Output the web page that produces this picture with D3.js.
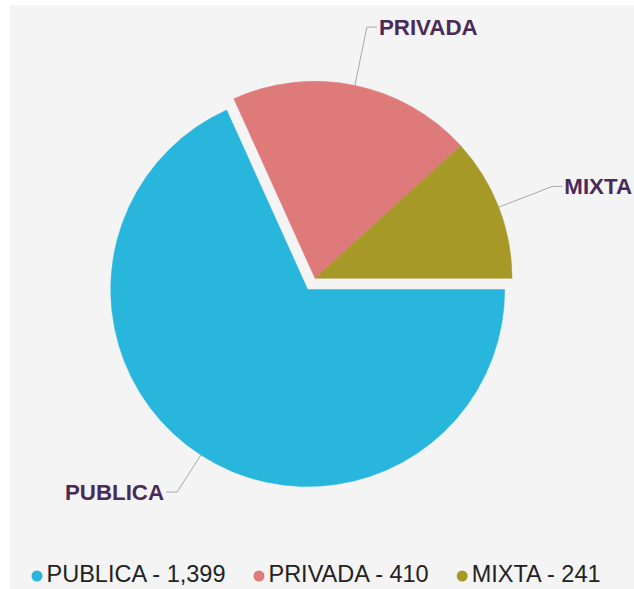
<!DOCTYPE html>
<html><head><meta charset="utf-8">
<script src="https://cdn.jsdelivr.net/npm/d3@7"></script>
<style>html,body{margin:0;padding:0;background:#fff;overflow:hidden}svg{display:block}</style>
</head><body>
<svg id="chart" width="634" height="589"></svg>
<script>
const categories = ["PUBLICA", "PRIVADA", "MIXTA"];
const values = [1399, 410, 241];
const colors = ["#29b6dc", "#de7a7a", "#a69928"];
const sliced = [true, false, false];

const W = 634, H = 589;
const cx = 315, cy = 278.3, R = 197, sliceOffset = 13.4;
const labelFont = "bold 22.3px 'Liberation Sans', Arial, sans-serif";

const svg = d3.select("#chart");
svg.append("rect").attr("x", 10).attr("y", 5).attr("width", W - 10).attr("height", H - 5).attr("fill", "#f4f4f4");

const data = categories.map((c, i) => ({ name: c, value: values[i], color: colors[i], sliced: sliced[i] }));
const pie = d3.pie().value(d => d.value).sort(null).startAngle(Math.PI / 2).endAngle(Math.PI / 2 + 2 * Math.PI);
const arcs = pie(data);
const arc = d3.arc().innerRadius(0).outerRadius(R);

const fmt = d3.format(",");
const g = svg.append("g").attr("transform", `translate(${cx},${cy})`);

// label distance tweaks (elbow radius beyond edge)
const elbowR = { PUBLICA: 241, PRIVADA: 256.5, MIXTA: 254.5 };

arcs.forEach(a => {
  const mid = (a.startAngle + a.endAngle) / 2;
  const ox = a.data.sliced ? Math.sin(mid) * sliceOffset : 0;
  const oy = a.data.sliced ? -Math.cos(mid) * sliceOffset : 0;
  const sg = g.append("g").attr("transform", `translate(${ox},${oy})`);
  sg.append("path").attr("d", arc(a)).attr("fill", a.data.color)
    .attr("stroke", a.data.color).attr("stroke-width", 0.5);

  const sx = Math.sin(mid), sy = -Math.cos(mid);
  const p0 = [sx * R, sy * R];
  const er = elbowR[a.data.name];
  const p1 = [sx * er, sy * er];
  const right = sx >= 0;
  const p2 = [p1[0] + (right ? 10 : -11), p1[1]];
  sg.append("path").attr("d", d3.line()([p0, p1, p2]))
    .attr("fill", "none").attr("stroke", "#a8a8a8").attr("stroke-width", 1);
  sg.append("text").attr("x", p2[0] + (right ? 2 : -2)).attr("y", p2[1] + 7.5)
    .attr("text-anchor", right ? "start" : "end")
    .style("font", labelFont).attr("fill", "#4a2b58").text(a.data.name);
});

// legend
const lg = svg.append("g");
let x = 31;
data.forEach(d => {
  lg.append("circle").attr("cx", x + 6).attr("cy", 576).attr("r", 5.5).attr("fill", d.color);
  const t = lg.append("text").attr("x", x + 15.5).attr("y", 582)
    .style("font", "23.5px 'Liberation Sans', Arial, sans-serif").attr("fill", "#222")
    .text(`${d.name} - ${fmt(d.value)}`);
  x = x + 15.5 + t.node().getComputedTextLength() + 27.5;
});
</script>
</body></html>
